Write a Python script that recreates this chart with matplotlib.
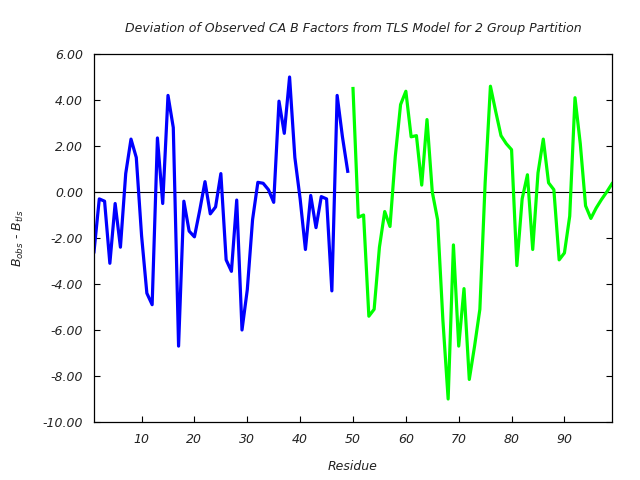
import numpy as np
import matplotlib
matplotlib.use("Agg")
import matplotlib.pyplot as plt
from matplotlib.ticker import FormatStrFormatter

plt.rcParams['axes.unicode_minus'] = False

# group 1 (blue), residues 1-49
res_grp1 = np.arange(1, 50)
dev_grp1 = [-2.6, -0.3, -0.4, -3.1, -0.5, -2.4, 0.8, 2.3, 1.5, -1.9,
            -4.4, -4.9, 2.35, -0.5, 4.2, 2.8, -6.7, -0.4, -1.7, -1.95,
            -0.8, 0.45, -0.95, -0.65, 0.8, -2.95, -3.45, -0.35, -6.0, -4.25,
            -1.2, 0.42, 0.38, 0.1, -0.45, 3.95, 2.55, 5.0, 1.5, -0.3,
            -2.5, -0.15, -1.55, -0.2, -0.3, -4.3, 4.2, 2.4, 0.9]

# group 2 (green), residues 50-99
res_grp2 = np.arange(50, 100)
dev_grp2 = [4.5, -1.1, -1.0, -5.4, -5.1, -2.4, -0.85, -1.5, 1.55, 3.8,
            4.38, 2.4, 2.45, 0.3, 3.15, 0.0, -1.2, -5.55, -9.0, -2.3,
            -6.7, -4.2, -8.15, -6.7, -5.1, 0.4, 4.6, 3.5, 2.45, 2.1,
            1.84, -3.2, -0.3, 0.75, -2.5, 0.83, 2.3, 0.4, 0.1, -2.95,
            -2.65, -1.05, 4.1, 2.1, -0.6, -1.15, -0.7, -0.33, 0.0, 0.36]

fs = 9

fig = plt.figure(figsize=(6.4, 4.8), dpi=100)
ax = fig.add_axes([94/640, 1 - 422/480, 518/640, 368/480])

ax.axhline(0, color='black', linewidth=0.8, zorder=1)
ax.plot(res_grp1, dev_grp1, color='#0000ff', linewidth=2.3, zorder=2)
ax.plot(res_grp2, dev_grp2, color='#00ff00', linewidth=2.3, zorder=2)

ax.set_xlim(1, 99)
ax.set_ylim(-10, 6)
ax.set_xticks(range(10, 100, 10))
ax.set_yticks(np.arange(-10, 7, 2))
ax.yaxis.set_major_formatter(FormatStrFormatter('%.2f'))
ax.tick_params(direction='in', length=4, width=0.8, right=True, top=False,
               labelsize=fs, pad=8, labelcolor='#222222')
for lab in ax.get_xticklabels() + ax.get_yticklabels():
    lab.set_fontstyle('italic')
for s in ax.spines.values():
    s.set_linewidth(0.9)

ax.set_title('Deviation of Observed CA B Factors from TLS Model for 2 Group Partition',
             fontsize=fs, fontstyle='italic', pad=16, color='#222222')
ax.set_xlabel('Residue', fontsize=fs, fontstyle='italic', labelpad=10, color='#222222')
ax.set_ylabel(r'$B_{obs}$ - $B_{tls}$', fontsize=fs, labelpad=12, color='#222222')

fig.savefig('out.png', dpi=100)
